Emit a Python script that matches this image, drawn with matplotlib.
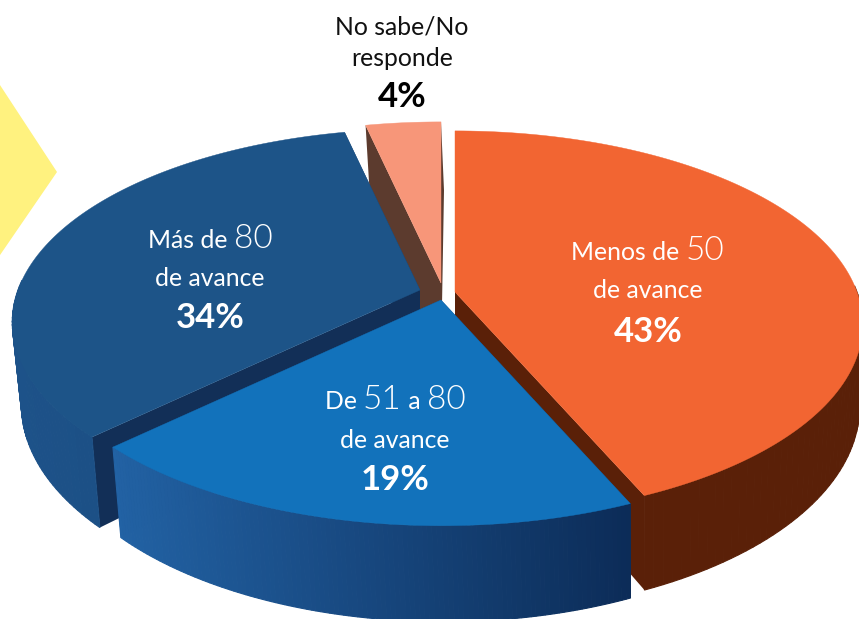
import numpy as np
import matplotlib
matplotlib.use("Agg")
import matplotlib.pyplot as plt
from matplotlib.colors import to_rgb
from matplotlib.offsetbox import TextArea, HPacker, AnnotationBbox
from matplotlib.patches import Polygon

plt.rcParams["font.family"] = ["Lato", "DejaVu Sans"]

# share of each slice, clockwise from 12 o'clock
slices = ["Menos de 50", "De 51 a 80", "Más de 80", "No sabe/No responde"]
shares = [43, 19, 34, 4]
percent_labels = ["43%", "19%", "34%", "4%"]

# look of the pie (pixels of the picture)
apex_x = [455, 441, 420, 441]
apex_y = [292, 300, 290, 283]
top_colors = ["#F26532", "#1272BB", "#1D5488", "#F79679"]
wall_colors = ["#5A2008", "#0F2F5A", "#122F57", "#5C3B2E"]
side_left = ["#5A2008", "#2262A4", "#1D5289", "#5C3B2E"]
side_right = ["#5A2008", "#0C2C58", "#1A4A7C", "#5C3B2E"]
draw_order = [3, 2, 0, 1]

RX = 402
RY = 188
PERSP = 0.167
DEPTH = 80
BOTTOM_SHRINK = 0.985  # lower rim is a little narrower than the top face
BOTTOM_SHIFT = 3
CUT_LEAN = np.radians([1.7, 3.0, 1.8])  # inner cuts lean in the original's perspective


def project(angle, cx, cy):
    u = np.sin(angle)
    v = -np.cos(angle)
    s = 1 / (1 - PERSP * v)
    return cx + RX * u * s, cy + RY * v * s, s


def mix(c1, c2, t):
    a, b = np.array(to_rgb(c1)), np.array(to_rgb(c2))
    return tuple(a + (b - a) * t)


def draw_slice(ax, i, start, end):
    cx, cy = apex_x[i], apex_y[i]
    angles = np.linspace(start, end, 120)
    x, y, s = project(angles, cx, cy)
    drop = DEPTH * s
    low_x = cx + (x - cx) * BOTTOM_SHRINK + BOTTOM_SHIFT

    # the two cut faces
    for k in (0, -1):
        wall = [(cx, cy), (x[k], y[k]), (low_x[k], y[k] + drop[k]), (cx, cy + DEPTH)]
        ax.add_patch(Polygon(wall, closed=True, fc=wall_colors[i], ec="none"))

    # outer rim, shaded along x; the back of the rim stays hidden
    x_min, x_max = x.min(), x.max()
    for k in range(len(angles) - 1):
        if np.cos(angles[k]) > 0.05:
            continue
        t = (x[k] - x_min) / max(x_max - x_min, 1)
        col = mix(side_left[i], side_right[i], t)
        quad = [(x[k], y[k]), (x[k + 1], y[k + 1]),
                (low_x[k + 1], y[k + 1] + drop[k + 1]), (low_x[k], y[k] + drop[k])]
        ax.add_patch(Polygon(quad, closed=True, fc=col, ec=col, lw=0.8))

    top = [(cx, cy)] + list(zip(x, y))
    ax.add_patch(Polygon(top, closed=True, fc=top_colors[i], ec=top_colors[i], lw=0.3))


def mixed_label(ax, x, y, parts, color):
    boxes = [TextArea(t, textprops=dict(color=color, fontsize=fs, fontweight=w)) for t, fs, w in parts]
    row = HPacker(children=boxes, align="baseline", pad=0, sep=0)
    ax.add_artist(AnnotationBbox(row, (x, y), frameon=False, pad=0, box_alignment=(0.5, 0.0), zorder=10))


fig = plt.figure(figsize=(8.59, 6.19), dpi=100)
ax = fig.add_axes([0, 0, 1, 1])
ax.set_xlim(0, 859)
ax.set_ylim(619, 0)
ax.axis("off")

# yellow arrow cut by the left edge
ax.add_patch(Polygon([(-2, 82), (57, 172), (-2, 258)], closed=True, fc="#FFF27F", ec="none"))

edges = np.cumsum([0] + shares) / sum(shares) * 2 * np.pi
edges[1:-1] += CUT_LEAN
for i in draw_order:
    draw_slice(ax, i, edges[i], edges[i + 1])

SMALL = 17.8
BIG = 24
PCT = 25
NUM = 300

mixed_label(ax, 648, 266, [("Menos de ", SMALL, "normal"), ("50", BIG, NUM)], "white")
ax.text(648, 290, "de avance", color="white", fontsize=SMALL, ha="center", va="center")
ax.text(648, 332, percent_labels[0], color="white", fontsize=PCT, fontweight="bold", ha="center", va="center")

mixed_label(ax, 395, 415, [("De ", SMALL, "normal"), ("51", BIG, NUM), (" a ", SMALL, "normal"), ("80", BIG, NUM)], "white")
ax.text(395, 440, "de avance", color="white", fontsize=SMALL, ha="center", va="center")
ax.text(395, 480, percent_labels[1], color="white", fontsize=PCT, fontweight="bold", ha="center", va="center")

mixed_label(ax, 210, 254, [("Más de ", SMALL, "normal"), ("80", BIG, NUM)], "white")
ax.text(210, 278, "de avance", color="white", fontsize=SMALL, ha="center", va="center")
ax.text(210, 318, percent_labels[2], color="white", fontsize=PCT, fontweight="bold", ha="center", va="center")

ax.text(402, 27, "No sabe/No", color="#111111", fontsize=SMALL, ha="center", va="center")
ax.text(402, 58, "responde", color="#111111", fontsize=SMALL, ha="center", va="center")
ax.text(402, 97, percent_labels[3], color="black", fontsize=PCT, fontweight="bold", ha="center", va="center")

fig.savefig("out.png", dpi=100)
